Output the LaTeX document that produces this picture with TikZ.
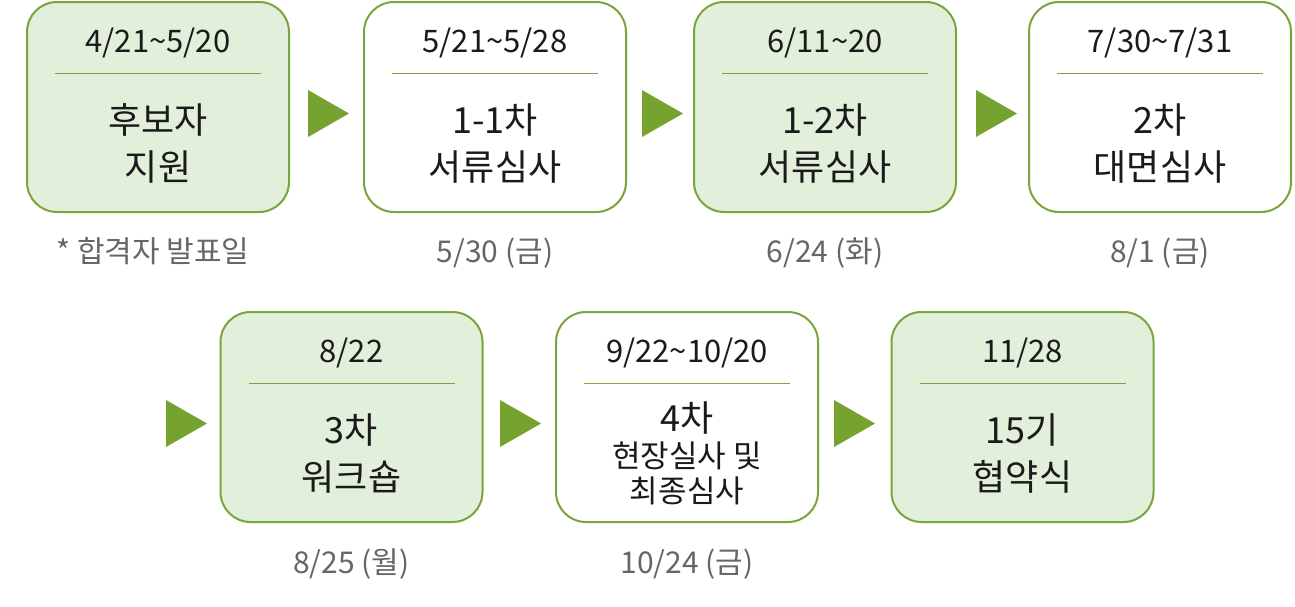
\documentclass[tikz,border=0pt]{standalone}
\usepackage{fontspec}
\setmainfont{Noto Sans CJK KR}
\definecolor{boxgreen}{HTML}{E2EFDA}
\definecolor{edgegreen}{HTML}{7AA53A}
\definecolor{arrowgreen}{HTML}{76A22F}
\definecolor{graytext}{HTML}{666666}
\definecolor{darktext}{HTML}{1A1A1A}
\newcommand{\tld}{\char"7E\relax}
\tikzset{
  stagebox/.style={draw=edgegreen, line width=2pt, rounded corners=30pt, minimum width=262pt, minimum height=210pt, inner sep=0pt},
  greenbox/.style={stagebox, fill=boxgreen},
  whitebox/.style={stagebox, fill=white},
  datetext/.style={anchor=base, text=darktext, font=\fontsize{31}{36}\selectfont},
  maintext/.style={anchor=base, text=darktext, font=\fontsize{36}{42}\selectfont},
  smalltext/.style={anchor=base, text=darktext, font=\fontsize{31}{36}\selectfont},
  notetext/.style={anchor=base, text=graytext, font=\fontsize{30}{35}\selectfont},
  sepline/.style={edgegreen, line width=1pt},
  playtri/.style={fill=arrowgreen},
}
\begin{document}
\begin{tikzpicture}[x=1pt,y=-1pt]
\useasboundingbox (0,0) rectangle (1295,606);
% boxes
\node[greenbox] (b1) at (158,107) {};
\node[whitebox] (b2) at (495,107) {};
\node[greenbox] (b3) at (825,107) {};
\node[whitebox] (b4) at (1160,107) {};
\node[greenbox] (b5) at (351.5,417) {};
\node[whitebox] (b6) at (687,417) {};
\node[greenbox] (b7) at (1022.5,417) {};
% separator lines
\foreach \cx/\ly in {158/73,495/73,825/73,1160/73,351.5/383,687/383,1022.5/383}{
  \draw[sepline] (\cx-103,\ly) -- (\cx+103,\ly);
}
% dates
\node[datetext] (d1) at (158,52) {4/21\tld 5/20};
\node[datetext] (d2) at (495,52) {5/21\tld 5/28};
\node[datetext] (d3) at (825,52) {6/11\tld 20};
\node[datetext] (d4) at (1160,52) {7/30\tld 7/31};
\node[datetext] (d5) at (351.5,362) {8/22};
\node[datetext] (d6) at (687,362) {9/22\tld 10/20};
\node[datetext] (d7) at (1022.5,362) {11/28};
% main text
\node[maintext] (m1a) at (158,133) {후보자};
\node[maintext] (m1b) at (158,180) {지원};
\node[maintext] (m2a) at (495,133) {1-1차};
\node[maintext] (m2b) at (495,180) {서류심사};
\node[maintext] (m3a) at (825,133) {1-2차};
\node[maintext] (m3b) at (825,180) {서류심사};
\node[maintext] (m4a) at (1160,133) {2차};
\node[maintext] (m4b) at (1160,180) {대면심사};
\node[maintext] (m5a) at (351.5,443) {3차};
\node[maintext] (m5b) at (351.5,490) {워크숍};
\node[maintext] (m6a) at (687,431) {4차};
\node[smalltext] (m6b) at (687,467) {현장실사 및};
\node[smalltext] (m6c) at (687,502) {최종심사};
\node[maintext] (m7a) at (1022.5,443) {15기};
\node[maintext] (m7b) at (1022.5,490) {협약식};
% notes
\node[notetext] (n1) at (153,262) {* 합격자 발표일};
\node[notetext] (n2) at (495,262) {5/30 (금)};
\node[notetext] (n3) at (825,262) {6/24 (화)};
\node[notetext] (n4) at (1160,262) {8/1 (금)};
\node[notetext] (n5) at (351.5,573) {8/25 (월)};
\node[notetext] (n6) at (687,573) {10/24 (금)};
% arrows
\foreach \ax/\ay in {308/90,642/90,976/90,166/400,500/400,834/400}{
  \fill[playtri] (\ax,\ay) -- (\ax+41,\ay+23.5) -- (\ax,\ay+47) -- cycle;
}
\end{tikzpicture}
\end{document}
